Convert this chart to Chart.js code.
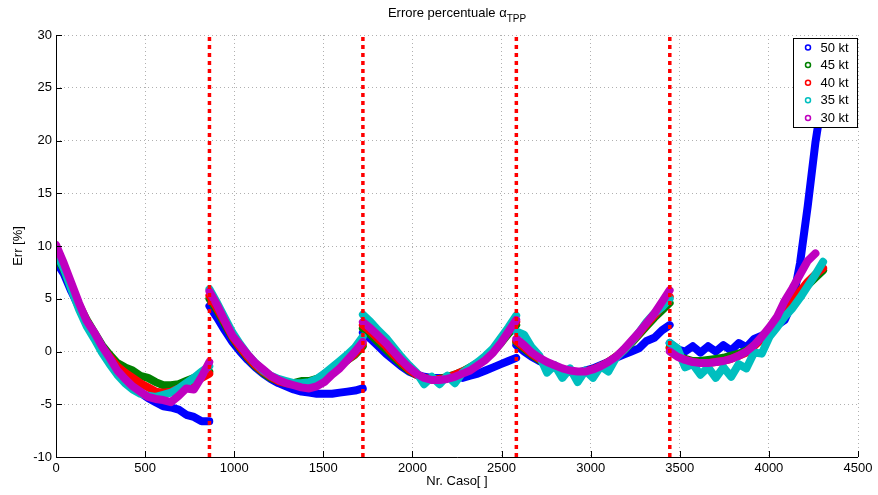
<!DOCTYPE html>
<html>
<head>
<meta charset="utf-8">
<title>Errore percentuale</title>
<script src="https://cdn.jsdelivr.net/npm/chart.js"></script>
<style>
  html, body { margin: 0; padding: 0; background: #fff; }
  #contenitore { width: 878px; height: 495px; }
</style>
</head>
<body>
<div id="contenitore"><canvas id="grafico"></canvas></div>
<script>
// Serie (velocità) e colori stile MATLAB
const serie = ['50 kt', '45 kt', '40 kt', '35 kt', '30 kt'];
const colori = ['#0000ff', '#008000', '#ff0000', '#00bfbf', '#bf00bf'];

// Confini tra i blocchi di casi (linee rosse tratteggiate)
const separatori = [861, 1722, 2583, 3444];

// Numero del caso, un array per blocco
const casi = [
    [0, 43, 86, 129, 172, 215, 258, 301, 344, 387, 430, 473, 516, 559, 602, 645, 688, 731, 774, 817, 860],
    [861, 904, 947, 990, 1033, 1076, 1119, 1162, 1205, 1248, 1291, 1334, 1377, 1420, 1463, 1506, 1549, 1592, 1635, 1678, 1721],
    [1722, 1765, 1808, 1851, 1894, 1937, 1980, 2023, 2066, 2109, 2152, 2195, 2238, 2281, 2324, 2367, 2410, 2453, 2496, 2539, 2582],
    [2583, 2626, 2669, 2712, 2755, 2798, 2841, 2884, 2927, 2970, 3013, 3056, 3099, 3142, 3185, 3228, 3271, 3314, 3357, 3400, 3443],
    [3444, 3487, 3530, 3573, 3616, 3659, 3702, 3745, 3788, 3831, 3874, 3917, 3960, 4003, 4046, 4089, 4132, 4175, 4218, 4261, 4304]
];

// Errore percentuale [%], stessi blocchi di "casi"
const err50 = [
    [8.5, 7.4, 5.7, 4.2, 2.8, 1.5, 0.4, -0.6, -1.6, -2.5, -3.3, -3.9, -4.4, -4.8, -5.2, -5.3, -5.5, -6.0, -6.2, -6.6, -6.6],
    [4.3, 3.2, 2.0, 0.9, 0.0, -0.8, -1.5, -2.1, -2.6, -3.0, -3.3, -3.6, -3.8, -3.9, -4.0, -4.0, -4.0, -3.9, -3.8, -3.7, -3.5],
    [1.8, 1.2, 0.5, -0.2, -0.8, -1.4, -1.9, -2.2, -2.4, -2.5, -2.5, -2.5, -2.4, -2.5, -2.3, -2.1, -1.8, -1.5, -1.2, -0.9, -0.6],
    [0.6, 0.0, -0.5, -0.9, -1.2, -1.5, -1.7, -1.9, -2.0, -1.8, -1.6, -1.3, -1.0, -0.6, -0.3, 0.0, 0.3, 1.0, 1.3, 2.0, 2.5],
    [0.8, 0.2, 0.0, 0.5, -0.1, 0.5, 0.0, 0.6, 0.1, 0.8, 0.4, 1.2, 1.5, 2.0, 2.5, 3.0, 4.6, 8.4, 13.8, 19.8, 24.5]
];
const err45 = [
    [9.1, 7.8, 6.0, 4.4, 3.0, 1.8, 0.6, -0.3, -1.1, -1.5, -1.8, -2.3, -2.5, -2.9, -3.2, -3.2, -3.1, -2.8, -2.5, -2.2, -1.9],
    [5.0, 3.9, 2.6, 1.3, 0.3, -0.6, -1.4, -2.0, -2.5, -2.8, -3.0, -3.0, -2.8, -2.8, -2.6, -2.3, -1.8, -1.3, -0.8, -0.3, 0.5],
    [2.2, 1.6, 0.9, 0.2, -0.5, -1.2, -1.8, -2.2, -2.5, -2.6, -2.6, -2.4, -2.2, -1.9, -1.5, -1.1, -0.6, 0.0, 0.8, 1.7, 2.5],
    [0.9, 0.3, -0.3, -0.8, -1.2, -1.5, -1.7, -1.9, -2.0, -1.9, -1.7, -1.4, -1.0, -0.5, 0.1, 0.8, 1.6, 2.4, 3.2, 3.9, 4.6],
    [0.4, -0.3, -0.7, -0.9, -0.9, -0.8, -0.7, -0.6, -0.4, -0.2, 0.1, 0.6, 1.2, 2.1, 3.0, 3.9, 4.7, 5.5, 6.3, 7.0, 7.7]
];
const err40 = [
    [9.5, 8.0, 6.2, 4.4, 2.9, 1.6, 0.4, -0.5, -1.4, -2.0, -2.5, -3.0, -3.4, -3.8, -3.9, -3.8, -3.5, -3.2, -2.9, -2.5, -2.1],
    [5.3, 4.1, 2.8, 1.4, 0.4, -0.5, -1.3, -1.9, -2.4, -2.8, -3.0, -3.1, -3.1, -3.0, -2.8, -2.4, -1.9, -1.3, -0.8, -0.2, 0.7],
    [2.5, 1.9, 1.2, 0.5, -0.3, -1.0, -1.7, -2.2, -2.5, -2.7, -2.6, -2.5, -2.2, -1.9, -1.6, -1.1, -0.6, 0.0, 0.9, 1.9, 2.8],
    [1.0, 0.4, -0.2, -0.7, -1.1, -1.4, -1.7, -1.9, -2.0, -1.9, -1.7, -1.4, -1.0, -0.5, 0.1, 0.9, 1.7, 2.6, 3.4, 4.3, 5.2],
    [0.3, -0.4, -0.8, -1.0, -1.1, -1.1, -1.0, -0.9, -0.7, -0.4, -0.1, 0.5, 1.2, 2.2, 3.0, 3.9, 4.8, 5.7, 6.6, 7.3, 7.9]
];
const err35 = [
    [9.3, 7.9, 5.9, 4.0, 2.4, 1.2, -0.1, -1.2, -2.2, -3.0, -3.6, -4.0, -4.2, -4.3, -4.1, -3.9, -3.5, -3.0, -2.5, -1.9, -1.4],
    [5.9, 4.6, 3.2, 1.8, 0.7, -0.3, -1.1, -1.8, -2.3, -2.6, -2.8, -3.0, -3.0, -2.9, -2.6, -2.1, -1.5, -0.9, -0.3, 0.4, 1.4],
    [3.5, 2.8, 2.0, 1.3, 0.4, -0.5, -1.3, -2.0, -3.1, -2.4, -3.1, -2.3, -3.0, -2.0, -1.5, -1.0, -0.4, 0.3, 1.3, 2.3, 3.4],
    [1.9, 1.6, 0.4, -0.4, -2.0, -1.3, -2.5, -1.6, -2.9, -1.8, -2.5, -1.4, -1.9, -0.6, 0.1, 0.9, 1.8, 2.8, 3.6, 4.2, 5.0],
    [0.8, 0.3, -1.5, -1.2, -2.2, -1.5, -2.5, -1.5, -2.4, -1.2, -1.6, -0.1, -0.2, 1.4, 2.3, 3.3, 4.1, 5.1, 6.2, 7.3, 8.5]
];
const err30 = [
    [10.1, 8.4, 6.5, 4.6, 2.9, 1.8, 0.5, -0.6, -1.8, -2.6, -3.3, -3.8, -4.3, -4.5, -4.6, -4.8, -4.2, -3.5, -3.6, -2.4, -1.0],
    [5.7, 4.4, 2.9, 1.5, 0.6, -0.3, -1.1, -1.7, -2.3, -2.7, -3.0, -3.2, -3.4, -3.5, -3.3, -2.9, -2.2, -1.6, -0.8, 0.0, 0.9],
    [2.8, 2.2, 1.5, 0.8, 0.0, -0.8, -1.5, -2.1, -2.5, -2.7, -2.7, -2.6, -2.4, -2.1, -1.8, -1.3, -0.8, -0.1, 0.8, 1.9, 3.0],
    [1.2, 0.6, -0.1, -0.6, -1.0, -1.3, -1.6, -1.8, -1.9, -1.9, -1.7, -1.4, -1.0, -0.5, 0.2, 1.0, 1.8, 2.7, 3.6, 4.7, 5.8],
    [0.0, -0.5, -0.8, -1.0, -1.1, -1.1, -1.0, -0.9, -0.7, -0.4, 0.0, 0.6, 1.4, 2.3, 3.3, 4.8, 6.0, 7.3, 8.6, 9.3, null]
];
const valori = [err50, err45, err40, err35, err30];

const yTicks = [-10, -5, 0, 5, 10, 15, 20, 25, 30];
const xTicks = [0, 500, 1000, 1500, 2000, 2500, 3000, 3500, 4000, 4500];

const FONT = '"Liberation Sans", Arial, Helvetica, sans-serif';
Chart.defaults.font.family = FONT;
Chart.defaults.font.size = 13;
Chart.defaults.color = '#000';

// Punti {x, y} con un buco tra un blocco e l'altro
function punti(blocchi) {
    const out = [];
    casi.forEach((seg, s) => {
        seg.forEach((x, i) => out.push({ x: x, y: blocchi[s][i] }));
        out.push({ x: seg[seg.length - 1], y: null });
    });
    return out;
}

const datasets = serie.map((nome, i) => ({
    label: nome,
    data: punti(valori[i]),
    showLine: true,
    spanGaps: false,
    borderColor: colori[i],
    backgroundColor: colori[i],
    borderWidth: 8,
    borderCapStyle: 'round',
    borderJoinStyle: 'round',
    pointRadius: 0,
    order: serie.length - i   // 50 kt sotto, 30 kt sopra
}));

// linee verticali rosse
const datiSeparatori = [];
separatori.forEach(s => {
    datiSeparatori.push({ x: s, y: -10 }, { x: s, y: 30 }, { x: s, y: null });
});
datasets.push({
    label: 'separatori',
    data: datiSeparatori,
    showLine: true,
    spanGaps: false,
    borderColor: '#ff0000',
    borderWidth: 3.5,
    borderDash: [4, 4],
    borderCapStyle: 'butt',
    pointRadius: 0,
    order: 0
});

// Titolo, assi con tick interni e legenda in stile MATLAB
const decorazioni = {
    id: 'decorazioni',
    afterDraw(chart) {
        const { ctx, chartArea: a, scales: { x, y } } = chart;
        ctx.save();

        // assi sinistro e inferiore + tick verso l'interno
        ctx.strokeStyle = '#000';
        ctx.lineWidth = 1;
        ctx.beginPath();
        ctx.moveTo(a.left + 0.5, a.top);
        ctx.lineTo(a.left + 0.5, a.bottom + 0.5);
        ctx.lineTo(a.right, a.bottom + 0.5);
        xTicks.forEach(v => {
            const px = Math.round(x.getPixelForValue(v)) + 0.5;
            ctx.moveTo(px, a.bottom);
            ctx.lineTo(px, a.bottom - 6);
        });
        yTicks.forEach(v => {
            const py = Math.round(y.getPixelForValue(v)) + 0.5;
            ctx.moveTo(a.left, py);
            ctx.lineTo(a.left + 6, py);
        });
        ctx.stroke();

        // titolo con pedice
        const principale = 'Errore percentuale \u03b1';
        const pedice = 'TPP';
        ctx.fillStyle = '#000';
        ctx.textBaseline = 'alphabetic';
        ctx.font = '13px ' + FONT;
        const w1 = ctx.measureText(principale).width;
        ctx.font = '10px ' + FONT;
        const w2 = ctx.measureText(pedice).width;
        const x0 = (a.left + a.right) / 2 - (w1 + w2) / 2;
        ctx.font = '13px ' + FONT;
        ctx.textAlign = 'left';
        ctx.fillText(principale, x0, 17);
        ctx.font = '10px ' + FONT;
        ctx.fillText(pedice, x0 + w1, 22);

        // legenda
        const bx = 793.5, by = 38.5, bw = 64, bh = 89;
        ctx.fillStyle = '#fff';
        ctx.fillRect(bx, by, bw, bh);
        ctx.strokeStyle = '#000';
        ctx.lineWidth = 1;
        ctx.strokeRect(bx, by, bw, bh);
        ctx.font = '13px ' + FONT;
        ctx.textBaseline = 'middle';
        serie.forEach((nome, i) => {
            const cy = by + 9 + i * 17.6;
            ctx.beginPath();
            ctx.arc(bx + 14.5, cy, 2.5, 0, Math.PI * 2);
            ctx.strokeStyle = colori[i];
            ctx.lineWidth = 1.5;
            ctx.stroke();
            ctx.fillStyle = '#000';
            ctx.fillText(nome, bx + 27, cy + 0.5);
        });
        ctx.restore();
    }
};

new Chart(document.getElementById('grafico'), {
    type: 'scatter',
    data: { datasets: datasets },
    options: {
        responsive: true,
        maintainAspectRatio: false,
        animation: false,
        events: [],
        layout: { padding: { left: 0, right: 20, top: 35, bottom: 0 } },
        plugins: {
            legend: { display: false },
            title: { display: false },
            tooltip: { enabled: false }
        },
        scales: {
            x: {
                type: 'linear',
                min: 0,
                max: 4500,
                afterFit: s => { s.height = 38; },
                afterBuildTicks: s => { s.ticks = xTicks.map(v => ({ value: v })); },
                ticks: { padding: 4, maxRotation: 0, autoSkip: false, font: { size: 13 }, callback: v => String(v) },
                grid: { color: '#b0b0b0', lineWidth: 1, drawTicks: false },
                border: { display: false, dash: [1, 3] },
                title: { display: true, text: 'Nr. Caso[ ]', font: { size: 13 }, padding: { top: 0, bottom: 6 } }
            },
            y: {
                type: 'linear',
                min: -10,
                max: 30,
                afterFit: s => { s.width = 56; },
                afterBuildTicks: s => { s.ticks = yTicks.map(v => ({ value: v })); },
                ticks: { padding: 4, font: { size: 13 }, callback: v => String(v) },
                grid: { color: '#b0b0b0', lineWidth: 1, drawTicks: false },
                border: { display: false, dash: [1, 3] },
                title: { display: true, text: 'Err [%]', font: { size: 13 }, padding: { top: 11, bottom: 0 } }
            }
        }
    },
    plugins: [decorazioni]
});
</script>
</body>
</html>
